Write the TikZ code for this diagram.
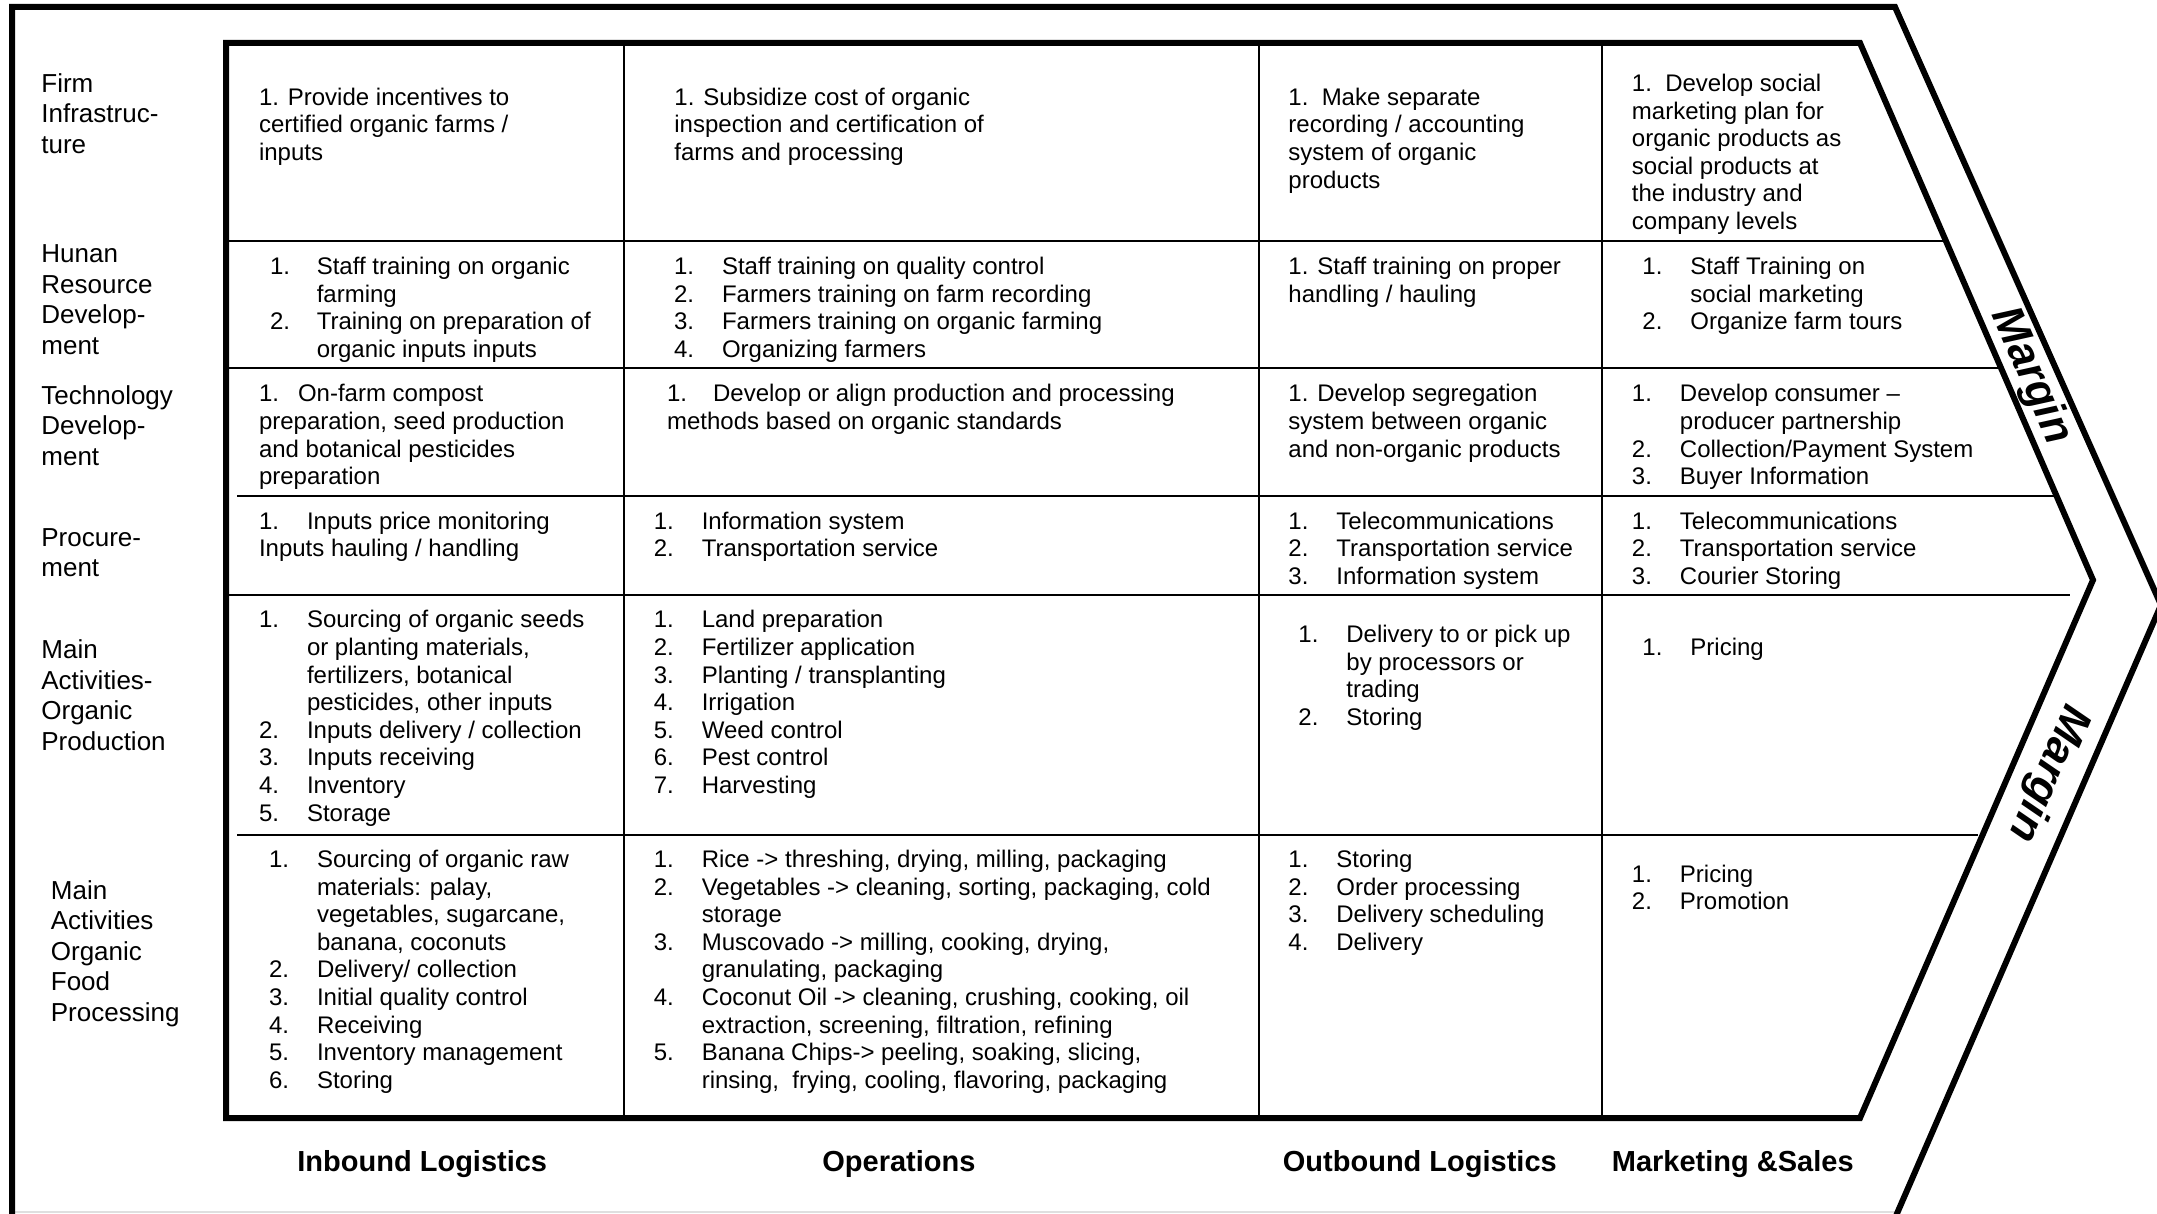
\documentclass[tikz,border=0pt]{standalone}
\usepackage{fontspec}
\setmainfont{Liberation Sans}
\newcommand\nmbx[2][24pt]{\makebox[#1][l]{#2}}
\newcommand\celltab[1]{\begin{tabular}{@{}l@{}}#1\end{tabular}}
\begin{document}
\begin{tikzpicture}[x=0.5pt,y=-0.5pt,
  thickline/.style={line width=3pt,line join=miter},
  gridline/.style={line width=0.85pt},
  body/.style={anchor=north west,inner sep=0pt,font={\fontsize{12pt}{13.8pt}\selectfont}},
  lab/.style={anchor=north west,inner sep=0pt,font={\fontsize{13pt}{15.25pt}\selectfont}},
  hdr/.style={anchor=base west,inner sep=0pt,font={\fontsize{14.5pt}{17pt}\selectfont\bfseries}},
  marg/.style={inner sep=0pt,font={\fontsize{22pt}{26pt}\selectfont\bfseries\itshape}}]
\useasboundingbox (0,0) rectangle (2157,1214);
\fill[white] (0,0) rectangle (2157,1214);
% faint bottom edge
\draw[gray!25,line width=1pt] (12,1212) -- (1898,1212);
% outer chevron frame
\draw[thickline] (12,1225) -- (12,7) -- (1895,7) -- (2161,605) -- (1892,1225);
% inner chevron
\draw[thickline] (226,43) -- (1860,43) -- (2093,580) -- (1860,1118) -- (226,1118) -- cycle;
% column lines
\draw[gridline] (624,43) -- (624,1118);
\draw[gridline] (1259,43) -- (1259,1118);
\draw[gridline] (1602,43) -- (1602,1118);
% row lines
\draw[gridline] (226,241) -- (1946,241);
\draw[gridline] (226,368) -- (2001,368);
\draw[gridline] (237,496) -- (2058,496);
\draw[gridline] (226,595) -- (2070,595);
\draw[gridline] (237,835) -- (1978,835);

% row labels
\node[lab] (lab1) at (41,70.45) {\celltab{Firm\\Infrastruc-\\ture}};
\node[lab] (lab2) at (41,241.05) {\celltab{Hunan\\Resource\\Develop-\\ment}};
\node[lab] (lab3) at (41,382.65) {\celltab{Technology\\Develop-\\ment}};
\node[lab] (lab4) at (41,524.25) {\celltab{Procure-\\ment}};
\node[lab] (lab5) at (41,637.05) {\celltab{Main\\Activities-\\Organic\\Production}};
\node[lab] (lab6) at (50.5,877.65) {\celltab{Main\\Activities\\Organic\\Food\\Processing}};

% row 1: firm infrastructure
\node[body] (r1c1) at (258.6,85.5) {\celltab{1. Provide incentives to\\certified organic farms /\\inputs}};
\node[body] (r1c2) at (674,85.5) {\celltab{1. Subsidize cost of organic\\inspection and certification of\\farms and processing}};
\node[body] (r1c3) at (1288,85.5) {\celltab{1.\ \ Make separate\\recording / accounting\\system of organic\\products}};
\node[body] (r1c4) at (1631.5,71.7) {\celltab{1.\ \ Develop social\\marketing plan for\\organic products as\\social products at\\the industry and\\company levels}};

% row 2: human resource development
\node[body] (r2c1) at (269.6,254.7) {\celltab{\nmbx[23.4pt]{1.}Staff training on organic\\\nmbx[23.4pt]{}farming\\\nmbx[23.4pt]{2.}Training on preparation of\\\nmbx[23.4pt]{}organic inputs inputs}};
\node[body] (r2c2) at (673.6,254.7) {\celltab{\nmbx{1.}Staff training on quality control\\\nmbx{2.}Farmers training on farm recording\\\nmbx{3.}Farmers training on organic farming\\\nmbx{4.}Organizing farmers}};
\node[body] (r2c3) at (1288,254.7) {\celltab{1. Staff training on proper\\handling / hauling}};
\node[body] (r2c4) at (1642,254.7) {\celltab{\nmbx{1.}Staff Training on\\\nmbx{}social marketing\\\nmbx{2.}Organize farm tours}};

% row 3: technology development
\node[body] (r3c1) at (258.6,382.2) {\celltab{\nmbx[19.5pt]{1.}On-farm compost\\preparation, seed production\\and botanical pesticides\\preparation}};
\node[body] (r3c2) at (666.7,382.2) {\celltab{\nmbx[23pt]{1.}Develop or align production and processing\\methods based on organic standards}};
\node[body] (r3c3) at (1288,382.2) {\celltab{1. Develop segregation\\system between organic\\and non-organic products}};
\node[body] (r3c4) at (1631.5,382.2) {\celltab{\nmbx{1.}Develop consumer –\\\nmbx{}producer partnership\\\nmbx{2.}Collection/Payment System\\\nmbx{3.}Buyer Information}};

% row 4: procurement
\node[body] (r4c1) at (258.6,509.5) {\celltab{\nmbx{1.}Inputs price monitoring\\Inputs hauling / handling}};
\node[body] (r4c2) at (653.4,509.5) {\celltab{\nmbx{1.}Information system\\\nmbx{2.}Transportation service}};
\node[body] (r4c3) at (1288,509.5) {\celltab{\nmbx{1.}Telecommunications\\\nmbx{2.}Transportation service\\\nmbx{3.}Information system}};
\node[body] (r4c4) at (1631.5,509.5) {\celltab{\nmbx{1.}Telecommunications\\\nmbx{2.}Transportation service\\\nmbx{3.}Courier Storing}};

% row 5: main activities - organic production
\node[body] (r5c1) at (258.6,608.2) {\celltab{\nmbx{1.}Sourcing of organic seeds\\\nmbx{}or planting materials,\\\nmbx{}fertilizers, botanical\\\nmbx{}pesticides, other inputs\\\nmbx{2.}Inputs delivery / collection\\\nmbx{3.}Inputs receiving\\\nmbx{4.}Inventory\\\nmbx{5.}Storage}};
\node[body] (r5c2) at (653.4,608.2) {\celltab{\nmbx{1.}Land preparation\\\nmbx{2.}Fertilizer application\\\nmbx{3.}Planting / transplanting\\\nmbx{4.}Irrigation\\\nmbx{5.}Weed control\\\nmbx{6.}Pest control\\\nmbx{7.}Harvesting}};
\node[body] (r5c3) at (1298,622.7) {\celltab{\nmbx{1.}Delivery to or pick up\\\nmbx{}by processors or\\\nmbx{}trading\\\nmbx{2.}Storing}};
\node[body] (r5c4) at (1642,636.2) {\celltab{\nmbx{1.}Pricing}};

% row 6: main activities - organic food processing
\node[body] (r6c1) at (268.6,847.7) {\celltab{\nmbx{1.}Sourcing of organic raw\\\nmbx{}materials: palay,\\\nmbx{}vegetables, sugarcane,\\\nmbx{}banana, coconuts\\\nmbx{2.}Delivery/ collection\\\nmbx{3.}Initial quality control\\\nmbx{4.}Receiving\\\nmbx{5.}Inventory management\\\nmbx{6.}Storing}};
\node[body] (r6c2) at (653.4,847.7) {\celltab{\nmbx{1.}Rice -> threshing, drying, milling, packaging\\\nmbx{2.}Vegetables -> cleaning, sorting, packaging, cold\\\nmbx{}storage\\\nmbx{3.}Muscovado -> milling, cooking, drying,\\\nmbx{}granulating, packaging\\\nmbx{4.}Coconut Oil -> cleaning, crushing, cooking, oil\\\nmbx{}extraction, screening, filtration, refining\\\nmbx{5.}Banana Chips-> peeling, soaking, slicing,\\\nmbx{}rinsing,\ \ frying, cooling, flavoring, packaging}};
\node[body] (r6c3) at (1288,847.7) {\celltab{\nmbx{1.}Storing\\\nmbx{2.}Order processing\\\nmbx{3.}Delivery scheduling\\\nmbx{4.}Delivery}};
\node[body] (r6c4) at (1631.5,862.4) {\celltab{\nmbx{1.}Pricing\\\nmbx{2.}Promotion}};

% column headers
\node[hdr] (h1) at (297,1171) {Inbound Logistics};
\node[hdr] (h2) at (822,1171) {Operations};
\node[hdr] (h3) at (1282.5,1171) {Outbound Logistics};
\node[hdr] (h4) at (1611.5,1171) {Marketing \&Sales};

% margin labels
\node[marg,rotate=-66.5] (m1) at (2031,376) {Margin};
\node[marg,rotate=-113.4] (m2) at (2048,773) {Margin};
\end{tikzpicture}
\end{document}
